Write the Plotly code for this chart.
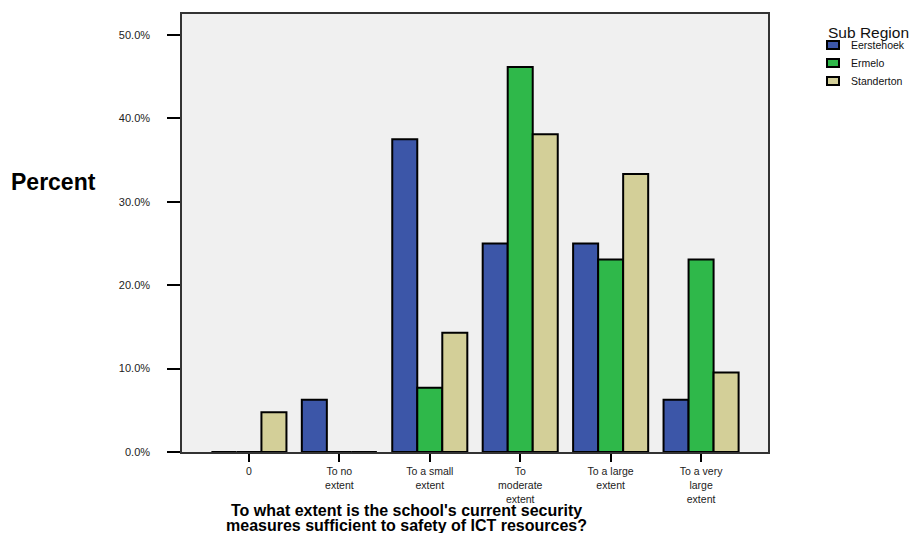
import plotly.graph_objects as go

categories = ["0", "To no<br>extent", "To a small<br>extent", "To<br>moderate<br>extent",
              "To a large<br>extent", "To a very<br>large<br>extent"]
eerstehoek = [0.0, 6.25, 37.5, 25.0, 25.0, 6.25]
ermelo = [0.0, 0.0, 7.69, 46.15, 23.08, 23.08]
standerton = [4.76, 0.0, 14.29, 38.10, 33.33, 9.52]
series_names = ["Eerstehoek", "Ermelo", "Standerton"]
colors = ["#3c56a8", "#2fb84a", "#d3cf98"]
y_ticks = [0, 10, 20, 30, 40, 50]
y_tick_labels = ["0.0%", "10.0%", "20.0%", "30.0%", "40.0%", "50.0%"]

FONT = "Liberation Sans, Arial, sans-serif"
W, H = 913, 533
L, R, T, B = 182, 145, 14, 81
PW, PH = W - L - R, H - T - B


def px_x(x):
    return (x - L) / PW


def px_y(y):
    return (H - B - y) / PH


fig = go.Figure()
for name, vals, col in zip(series_names, [eerstehoek, ermelo, standerton], colors):
    fig.add_trace(go.Bar(
        x=list(range(len(categories))), y=vals, name=name,
        marker=dict(color=col, line=dict(color="black", width=2)),
    ))

fig.update_layout(
    width=W, height=H,
    margin=dict(l=L, r=R, t=T, b=B, autoexpand=False),
    paper_bgcolor="white", plot_bgcolor="#f0f0f0",
    barmode="group", bargap=0.17, bargroupgap=0,
    font=dict(family=FONT, size=10.5, color="#222"),
    showlegend=False,
    xaxis=dict(
        tickmode="array", tickvals=list(range(len(categories))), ticktext=categories,
        range=[-0.74, 5.74], automargin=False,
        showline=True, linecolor="#333", linewidth=1.5, mirror=True,
        ticks="outside", ticklen=8, tickwidth=2, tickcolor="black",
        showgrid=False, zeroline=False,
        tickfont=dict(size=10.5, color="#222"),
        ticklabelstandoff=1,
    ),
    yaxis=dict(
        tickmode="array", tickvals=y_ticks, ticktext=y_tick_labels,
        range=[0, 52.5], automargin=False,
        showline=True, linecolor="#333", linewidth=1.5, mirror=True,
        ticks="outside", ticklen=13, tickwidth=2, tickcolor="black",
        showgrid=False, zeroline=False,
        tickfont=dict(size=11, color="#222"),
        ticklabelstandoff=15,
    ),
)

# Axis titles
fig.add_annotation(
    text="<b>Percent</b>", xref="paper", yref="paper", x=px_x(98), y=px_y(182),
    xanchor="right", yanchor="middle", showarrow=False,
    font=dict(size=23, color="black", family=FONT),
)
for line, yc in [("To what extent is the school's current security", 510),
                 ("measures sufficient to safety of ICT resources?", 525)]:
    fig.add_annotation(
        text="<b>" + line + "</b>", xref="paper", yref="paper", x=px_x(406), y=px_y(yc),
        xanchor="center", yanchor="middle", showarrow=False,
        font=dict(size=16, color="black", family=FONT),
    )

# Legend (drawn manually to match compact layout)
fig.add_annotation(
    text="Sub Region", xref="paper", yref="paper", x=px_x(826), y=px_y(32),
    xanchor="left", yanchor="middle", showarrow=False,
    font=dict(size=15.5, color="#111", family=FONT),
)
for i, (name, col) in enumerate(zip(series_names, colors)):
    yc = 45 + i * 18
    fig.add_shape(
        type="rect", xref="paper", yref="paper",
        x0=px_x(827), x1=px_x(839), y0=px_y(yc - 4), y1=px_y(yc + 4),
        fillcolor=col, line=dict(color="black", width=2),
    )
    fig.add_annotation(
        text=name, xref="paper", yref="paper", x=px_x(849), y=px_y(yc),
        xanchor="left", yanchor="middle", showarrow=False,
        font=dict(size=10.5, color="#111", family=FONT),
    )

fig.write_html("out.html", config={"displayModeBar": False},
               post_script="document.body.style.margin='0';document.body.style.overflow='hidden';")
